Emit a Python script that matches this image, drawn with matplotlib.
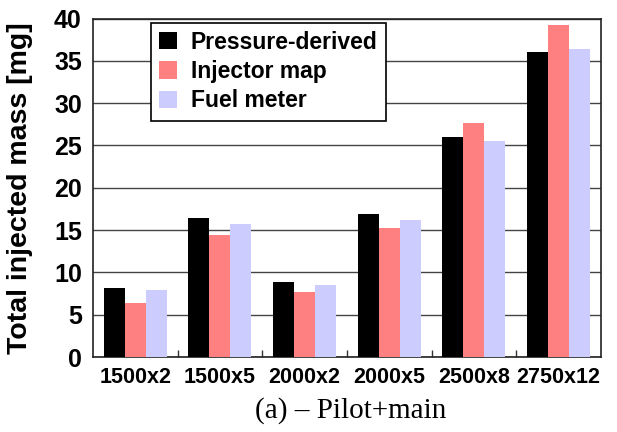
import numpy as np
import matplotlib
matplotlib.use("Agg")
import matplotlib.pyplot as plt

categories = ["1500x2", "1500x5", "2000x2", "2000x5", "2500x8", "2750x12"]
pressure_derived = [8.1, 16.45, 8.9, 16.85, 26.05, 36.0]
injector_map = [6.35, 14.45, 7.7, 15.2, 27.65, 39.2]
fuel_meter = [7.9, 15.75, 8.5, 16.2, 25.5, 36.4]

series = [("Pressure-derived", pressure_derived, "#000000"),
          ("Injector map", injector_map, "#FF8080"),
          ("Fuel meter", fuel_meter, "#CCCCFF")]

plt.rcParams["font.family"] = "Liberation Sans"

fig = plt.figure(figsize=(6.17, 4.32), dpi=100)
ax = fig.add_axes([0.1507, 0.1736, 0.8233, 0.7834])

x = np.arange(len(categories))
w = 0.248
for i, (name, vals, col) in enumerate(series):
    ax.bar(x + (i - 1) * w, vals, w, color=col, label=name, zorder=3)

ax.set_xlim(-0.5, len(categories) - 0.5)
ax.set_ylim(0, 40)
ax.set_yticks(range(0, 41, 5))
ax.yaxis.grid(True, color="#444444", lw=1.0, zorder=0)
ax.set_axisbelow(True)
ax.tick_params(axis="y", labelsize=18, length=0, pad=8)
for t in ax.get_yticklabels():
    t.set_fontweight("bold")

ax.set_xticks(x)
ax.set_xticklabels(categories, fontsize=15.5, fontweight="bold")
ax.tick_params(axis="x", length=0, pad=7)
ax.set_xticks(np.arange(0.5, len(categories) - 0.5), minor=True)
ax.tick_params(axis="x", which="minor", direction="in", length=5, width=1, color="#333333")

for s in ax.spines.values():
    s.set_linewidth(1.2)
    s.set_color("#222222")

ax.set_ylabel("Total injected mass [mg]", fontsize=20.5, fontweight="bold")
ax.yaxis.set_label_coords(-0.118, 0.5)

leg = ax.legend(loc="upper left", bbox_to_anchor=(0.1136, 0.988), borderaxespad=0,
                fancybox=False, framealpha=1, edgecolor="black",
                prop={"weight": "bold", "size": 16.5},
                handlelength=0.8, handleheight=0.8, handletextpad=0.6,
                labelspacing=0.28, borderpad=0.35)
leg.get_frame().set_linewidth(1.2)

fig.text(0.569, 0.018, "(a) \u2013 Pilot+main", ha="center", va="bottom",
         fontsize=21, family="Liberation Serif")

fig.savefig("out.png", dpi=100)
